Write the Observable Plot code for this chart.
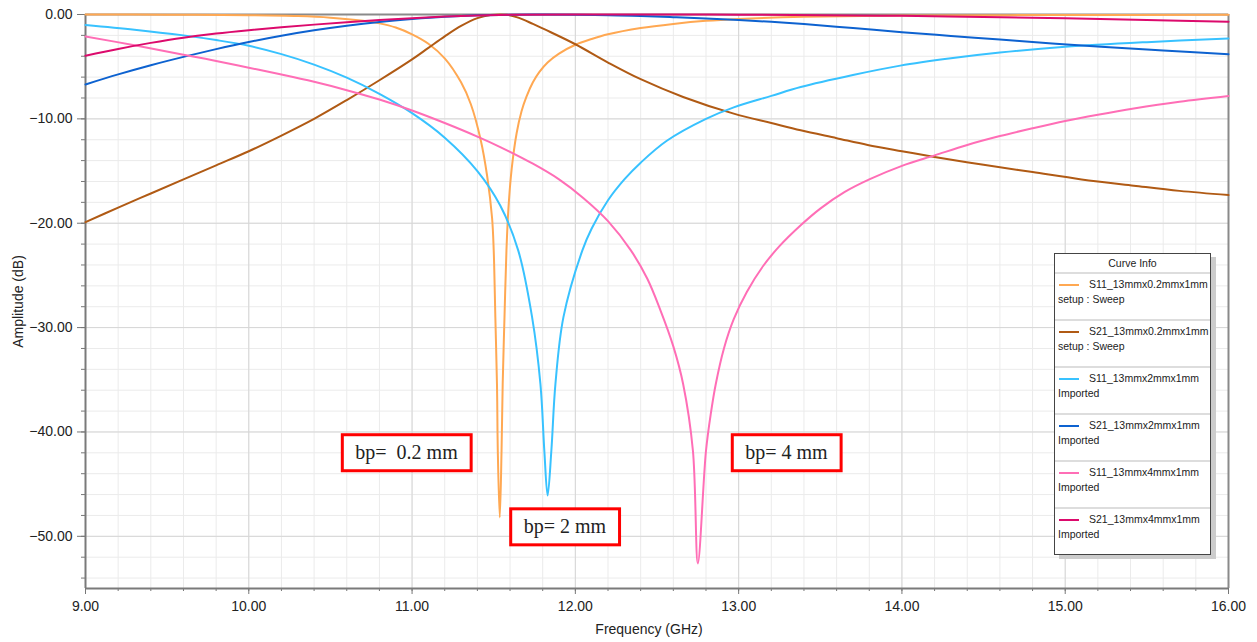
<!DOCTYPE html>
<html><head><meta charset="utf-8">
<script src="https://cdn.jsdelivr.net/npm/d3@7"></script>
<script src="https://cdn.jsdelivr.net/npm/@observablehq/plot@0.6"></script>
<style>
body{margin:0;background:#fff;}
#wrap{position:relative;width:1257px;height:642px;overflow:hidden;}
#legend{position:absolute;left:1054px;top:253px;width:155px;height:300px;border:1px solid #444;background:#fff;box-shadow:5px 4px 0 #cccccc;font-family:Arial,"Liberation Sans",sans-serif;font-size:10.5px;color:#222;}
#legend .title{height:18px;line-height:19px;text-align:center;border-bottom:2px solid #ddd;}
#legend .entry{height:45px;border-bottom:2px solid #ddd;position:relative;}
#legend .entry:last-child{border-bottom:none;}
#legend .sw{position:absolute;left:4px;top:10px;width:20px;height:2px;}
#legend .n{position:absolute;left:34px;top:4px;white-space:nowrap;}
#legend .s{position:absolute;left:3px;top:19px;white-space:nowrap;}
</style>
</head><body>
<div id="wrap"><div id="legend"></div></div>
<script>
// ---- data (frequency GHz, amplitude dB) ----
const seriesNames = ["S11_13mmx0.2mmx1mm","S21_13mmx0.2mmx1mm","S11_13mmx2mmx1mm","S21_13mmx2mmx1mm","S11_13mmx4mmx1mm","S21_13mmx4mmx1mm"];
const seriesSources = ["setup : Sweep","setup : Sweep","Imported","Imported","Imported","Imported"];
const seriesColors = ["#ffa852","#b05a14","#38c2ff","#0d62d0","#ff6eb6","#dc0a6c"];

const s11_02 = [[9.0,0],[9.5,-0.02],[10.0,-0.07],[10.3,-0.15],[10.5,-0.3],[10.7,-0.6],[10.8,-0.85],[10.9,-1.25],[11.0,-1.9],[11.1,-2.8],[11.2,-4.2],[11.3,-6.5],[11.36,-8.6],[11.42,-12.0],[11.46,-15.5],[11.49,-19.5],[11.50,-22.6],[11.51,-29],[11.52,-35.4],[11.525,-41.8],[11.537,-48.2],[11.548,-41.8],[11.555,-35.4],[11.566,-29],[11.578,-22.6],[11.59,-18.6],[11.61,-14.8],[11.64,-11.4],[11.67,-9.3],[11.70,-7.9],[11.74,-6.5],[11.78,-5.5],[11.83,-4.6],[11.9,-3.75],[12.0,-2.9],[12.1,-2.35],[12.2,-1.9],[12.4,-1.3],[12.6,-0.9],[12.8,-0.6],[13.0,-0.42],[13.4,-0.22],[14.0,-0.1],[15.0,-0.05],[16.0,-0.03]];
const s21_02 = [[9.0,-19.9],[9.2,-18.5],[9.4,-17.15],[9.6,-15.8],[9.8,-14.45],[10.0,-13.1],[10.2,-11.6],[10.4,-10.0],[10.6,-8.2],[10.8,-6.3],[11.0,-4.3],[11.1,-3.2],[11.2,-2.1],[11.3,-1.1],[11.4,-0.35],[11.48,-0.05],[11.58,-0.03],[11.65,-0.3],[11.74,-0.9],[11.85,-1.7],[12.0,-2.85],[12.2,-4.6],[12.4,-6.2],[12.66,-7.9],[12.97,-9.5],[13.2,-10.4],[13.38,-11.1],[13.6,-11.85],[13.79,-12.5],[14.0,-13.1],[14.2,-13.65],[14.5,-14.4],[14.8,-15.1],[15.1,-15.8],[15.42,-16.4],[15.7,-16.9],[16.0,-17.3]];
const s11_2 = [[9.0,-1.0],[9.3,-1.45],[9.6,-2.0],[9.8,-2.45],[10.0,-3.0],[10.2,-3.8],[10.4,-4.8],[10.6,-6.05],[10.8,-7.6],[11.0,-9.45],[11.2,-11.8],[11.4,-15.0],[11.54,-18.3],[11.65,-22.6],[11.735,-29],[11.786,-35.4],[11.81,-41.8],[11.83,-46.1],[11.853,-41.8],[11.878,-35.4],[11.927,-29],[12.043,-22.6],[12.1,-20.5],[12.2,-17.8],[12.3,-15.8],[12.4,-14.2],[12.56,-12.1],[12.8,-10.0],[12.97,-8.9],[13.2,-7.8],[13.38,-6.95],[13.7,-5.8],[13.99,-4.9],[14.3,-4.2],[14.6,-3.65],[15.0,-3.1],[15.5,-2.65],[16.0,-2.3]];
const s21_2 = [[9.0,-6.7],[9.2,-5.74],[9.4,-4.86],[9.6,-4.06],[9.8,-3.32],[10.0,-2.64],[10.2,-2.04],[10.4,-1.52],[10.6,-1.08],[10.8,-0.72],[11.0,-0.44],[11.2,-0.22],[11.4,-0.08],[11.6,-0.02],[11.8,0],[12.0,-0.02],[12.2,-0.08],[12.4,-0.15],[12.6,-0.26],[12.8,-0.38],[13.0,-0.52],[13.2,-0.7],[13.4,-0.92],[13.7,-1.3],[14.0,-1.7],[14.3,-2.05],[14.6,-2.4],[14.9,-2.75],[15.22,-3.1],[15.6,-3.45],[16.0,-3.8]];
const s11_4 = [[9.0,-2.1],[9.3,-2.95],[9.6,-3.85],[9.8,-4.45],[10.0,-5.1],[10.2,-5.75],[10.4,-6.45],[10.6,-7.25],[10.8,-8.15],[11.0,-9.2],[11.2,-10.4],[11.4,-11.7],[11.54,-12.7],[11.74,-14.3],[11.9,-15.8],[12.05,-17.6],[12.2,-19.8],[12.34,-22.6],[12.44,-25.3],[12.52,-28.3],[12.6,-31.8],[12.66,-35.4],[12.72,-41.8],[12.75,-52.6],[12.80,-41.8],[12.83,-38.2],[12.86,-35.4],[12.91,-32],[12.97,-29.2],[13.05,-26.6],[13.15,-24.1],[13.25,-22.2],[13.38,-20.2],[13.5,-18.6],[13.65,-17.0],[13.8,-15.8],[14.0,-14.5],[14.2,-13.5],[14.4,-12.5],[14.6,-11.65],[14.8,-10.9],[15.0,-10.2],[15.2,-9.6],[15.42,-9.0],[15.7,-8.35],[16.0,-7.8]];
const s21_4 = [[9.0,-3.95],[9.2,-3.3],[9.4,-2.72],[9.6,-2.22],[9.8,-1.82],[10.0,-1.5],[10.2,-1.22],[10.4,-0.97],[10.6,-0.74],[10.8,-0.53],[11.0,-0.35],[11.2,-0.2],[11.4,-0.09],[11.6,-0.03],[12.0,0],[12.6,0],[13.0,-0.02],[13.5,-0.06],[14.0,-0.13],[14.5,-0.23],[15.0,-0.36],[15.5,-0.52],[16.0,-0.7]];
const seriesData = [s11_02, s21_02, s11_2, s21_2, s11_4, s21_4];

const xTickValues = [9,10,11,12,13,14,15,16];
const yTickValues = [0,-10,-20,-30,-40,-50];
const xLabel = "Frequency (GHz)";
const yLabel = "Amplitude (dB)";

const annoLabels = ["bp=\u00a0 0.2 mm","bp= 2 mm","bp= 4 mm"];
const annoF = [10.966, 11.936, 13.293];
const annoDb = [-42.0, -49.1, -42.0];

// ---- build ----
const xMinor = d3.range(0, 36).map(i => 9 + i * 0.2);
const yMinor = d3.range(0, 28).map(i => -i * 2);
const lineMarks = seriesData.map((s, i) =>
  Plot.line(s.map(([f, db]) => ({f, db})), {x: "f", y: "db", stroke: seriesColors[i], strokeWidth: 2, curve: "catmull-rom"}));
const annos = annoLabels.map((label, i) => ({label, f: annoF[i], db: annoDb[i]}));

const fmt = d3.format(".2f");
const chart = Plot.plot({
  width: 1257, height: 642,
  marginLeft: 85, marginRight: 29, marginTop: 14, marginBottom: 54,
  x: {domain: [9, 16]},
  y: {domain: [-55, 0]},
  style: {fontFamily: "Arial, 'Liberation Sans', sans-serif", fontSize: "14px", color: "#222", background: "white", overflow: "visible"},
  marks: [
    Plot.ruleX(xMinor, {stroke: "#ebebeb", strokeWidth: 1}),
    Plot.ruleY(yMinor, {stroke: "#ebebeb", strokeWidth: 1}),
    Plot.ruleX(xTickValues, {stroke: "#d6d6d6", strokeWidth: 1}),
    Plot.ruleY(yTickValues, {stroke: "#d6d6d6", strokeWidth: 1}),
    Plot.ruleY([0], {stroke: "#8a8a8a", strokeWidth: 2}),
    Plot.ruleX([16], {stroke: "#8a8a8a", strokeWidth: 2}),
    Plot.axisX({ticks: xMinor, tickSize: 3, tickFormat: () => "", stroke: "#777", label: null}),
    Plot.axisX({ticks: xTickValues, tickSize: 6, tickPadding: 7, tickFormat: fmt, stroke: "#777", fill: "#222", label: null}),
    Plot.text([xLabel], {frameAnchor: "bottom", dy: 45, dx: -8, fontSize: 14, fill: "#222"}),
    Plot.axisY({ticks: yMinor, tickSize: 4, tickFormat: () => "", stroke: "#777", label: null}),
    Plot.axisY({ticks: yTickValues, tickSize: 8, tickPadding: 5, tickFormat: fmt, stroke: "#777", fill: "#222",
      label: yLabel, labelAnchor: "center", labelArrow: "none", labelOffset: 72}),
    Plot.ruleX([9], {stroke: "#7a7a7a", strokeWidth: 2}),
    Plot.ruleY([-55], {stroke: "#7a7a7a", strokeWidth: 2}),
    ...lineMarks,
    Plot.text(annos, {x: "f", y: "db", text: "label", fontFamily: "'Times New Roman', 'Liberation Serif', serif", fontSize: 20, fill: "#222"})
  ]
});
const wrap = document.getElementById("wrap");
wrap.insertBefore(chart, wrap.firstChild);

// red frames around annotation labels
const ns = "http://www.w3.org/2000/svg";
chart.querySelectorAll("text").forEach(t => {
  if (!annoLabels.includes(t.textContent)) return;
  const b = t.getBBox();
  const r = document.createElementNS(ns, "rect");
  const padX = 13, padY = 6.5;
  r.setAttribute("x", b.x - padX); r.setAttribute("y", b.y - padY);
  r.setAttribute("width", b.width + 2 * padX); r.setAttribute("height", b.height + 2 * padY);
  r.setAttribute("fill", "white"); r.setAttribute("stroke", "#ff0000"); r.setAttribute("stroke-width", 3);
  const tr = t.getAttribute("transform");
  if (tr) r.setAttribute("transform", tr);
  t.parentNode.insertBefore(r, t);
});

// legend
const legend = document.getElementById("legend");
const title = document.createElement("div");
title.className = "title"; title.textContent = "Curve Info";
legend.appendChild(title);
seriesNames.forEach((n, i) => {
  const e = document.createElement("div"); e.className = "entry";
  const sw = document.createElement("div"); sw.className = "sw"; sw.style.background = seriesColors[i];
  const a = document.createElement("div"); a.className = "n"; a.textContent = n;
  const s = document.createElement("div"); s.className = "s"; s.textContent = seriesSources[i];
  e.append(sw, a, s); legend.appendChild(e);
});
</script>
</body></html>
